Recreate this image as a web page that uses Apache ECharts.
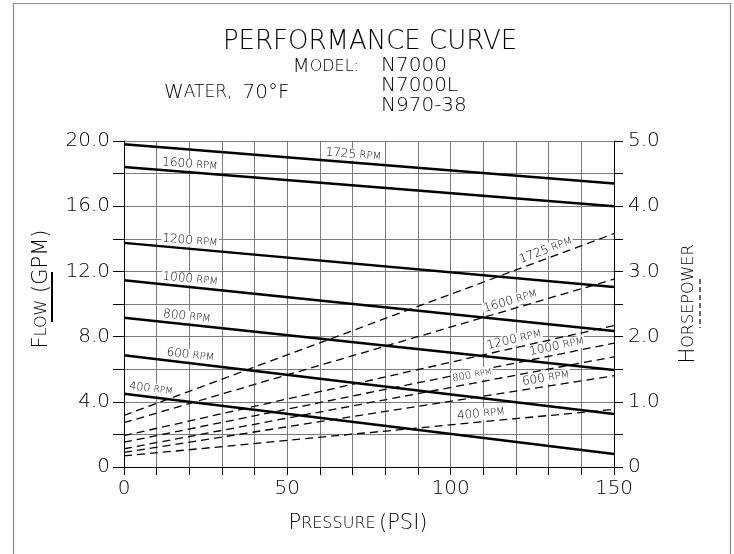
<!DOCTYPE html>
<html><head><meta charset="utf-8">
<script src="https://cdn.jsdelivr.net/npm/echarts@6/dist/echarts.min.js"></script>
<style>html,body{margin:0;padding:0;background:#fff}#c{width:734px;height:554px}</style>
</head><body><div id="c"></div>
<script>
// ---- data ----
const pressure = [0, 150];                 // PSI
const rpm = ['1725', '1600', '1200', '1000', '800', '600', '400'];
// Flow (GPM) at pressure[0], pressure[1]
const flow1725 = [19.8, 17.4];
const flow1600 = [18.4, 16.0];
const flow1200 = [13.75, 11.05];
const flow1000 = [11.45, 8.35];
const flow800  = [9.15, 5.95];
const flow600  = [6.85, 3.25];
const flow400  = [4.5, 0.8];
// Horsepower at pressure[0], pressure[1]
const hp1725 = [0.79, 3.58];
const hp1600 = [0.68, 2.88];
const hp1200 = [0.48, 2.17];
const hp1000 = [0.38, 1.90];
const hp800  = [0.28, 1.69];
const hp600  = [0.225, 1.40];
const hp400  = [0.17, 0.885];
// tick labels
const xTickLabels = ['0', '50', '100', '150'];
const flowTickLabels = ['0', '4.0', '8.0', '12.0', '16.0', '20.0'];
const hpTickLabels = ['0', '1.0', '2.0', '3.0', '4.0', '5.0'];

const flowSeries = [flow1725, flow1600, flow1200, flow1000, flow800, flow600, flow400];
const hpSeries = [hp1725, hp1600, hp1200, hp1000, hp800, hp600, hp400];

// ---- annotation placement (PSI along each curve) and sizes ----
const flowLabelPsi = [70, 20, 20, 20, 19, 20, 8];
const hpLabelPsi = [130, 119, 120, 133, 107, 129.5, 109.5];
const flowLabelSize = [12, 12, 12, 12, 12, 12, 11];
const hpLabelSize = [12, 12, 12, 12, 10, 12, 12];

const F = "'DejaVu Sans', 'Noto Sans', sans-serif";
const W = 200;
const TXT = '#000';

const chart = echarts.init(document.getElementById('c'), null, {renderer: 'canvas'});

const series = [];
flowSeries.forEach((arr, i) => series.push({
  name: rpm[i] + ' RPM flow', type: 'line', xAxisIndex: 0, yAxisIndex: 0,
  data: pressure.map((p, k) => [p, arr[k]]), symbol: 'none', silent: true,
  lineStyle: {color: '#000', width: 2.5}, z: 5
}));
hpSeries.forEach((arr, i) => series.push({
  name: rpm[i] + ' RPM hp', type: 'line', xAxisIndex: 0, yAxisIndex: 1,
  data: pressure.map((p, k) => [p, arr[k]]), symbol: 'none', silent: true,
  lineStyle: {color: '#000', width: 1.3, type: [8, 5]}, z: 4
}));

const gridStyle = {show: true, lineStyle: {color: '#7a7a7a', width: 1}};
const axisLbl = {fontFamily: F, fontWeight: W, fontSize: 20, color: TXT};
const rich = {
  a: {fontFamily: F, fontWeight: W, fontSize: 21, color: TXT},
  b: {fontFamily: F, fontWeight: W, fontSize: 16, color: TXT}
};

chart.setOption({
  animation: false,
  backgroundColor: '#fff',
  grid: {left: 124, right: 120, top: 141, bottom: 87},
  xAxis: {
    type: 'value', min: 0, max: 150, interval: 10,
    name: '{a|P}{b|RESSURE} {a|(PSI)}', nameLocation: 'middle', nameGap: 46,
    nameTextStyle: {rich, padding: [0, 22, 0, 0]},
    axisLine: {show: true, lineStyle: {color: '#000', width: 1}},
    axisTick: {show: true, length: 8, lineStyle: {color: '#000'}},
    axisLabel: Object.assign({margin: 12, formatter: v => (v % 50 === 0 ? xTickLabels[v / 50] : '')}, axisLbl),
    splitLine: gridStyle
  },
  yAxis: [{
    type: 'value', min: 0, max: 20, interval: 2, position: 'left',
    name: '{a|F}{b|LOW}  {a|(GPM)}', nameLocation: 'middle', nameRotate: 90, nameGap: 72,
    nameTextStyle: {rich, padding: [0, 0, 0, 30]},
    axisLine: {show: true, lineStyle: {color: '#000', width: 1}},
    axisTick: {show: true, length: 11, lineStyle: {color: '#000'}},
    axisLabel: Object.assign({margin: 14, formatter: v => (v % 4 === 0 ? flowTickLabels[v / 4] : '')}, axisLbl),
    splitLine: gridStyle
  }, {
    type: 'value', min: 0, max: 5, interval: 0.5, position: 'right',
    name: '{a|H}{b|ORSEPOWER}', nameLocation: 'middle', nameRotate: 90, nameGap: 64,
    nameTextStyle: {rich},
    axisLine: {show: true, lineStyle: {color: '#000', width: 1}},
    axisTick: {show: true, length: 9, lineStyle: {color: '#000'}},
    axisLabel: Object.assign({margin: 14, formatter: v => (Math.abs(v % 1) < 1e-9 ? hpTickLabels[Math.round(v)] : '')}, axisLbl),
    splitLine: {show: false}
  }],
  series
});

function curveLabel(arr, yAxisIndex, psi, text, fs) {
  const t = (psi - pressure[0]) / (pressure[1] - pressure[0]);
  const yv = arr[0] + (arr[1] - arr[0]) * t;
  const finder = {xAxisIndex: 0, yAxisIndex: yAxisIndex};
  const p = chart.convertToPixel(finder, [psi, yv]);
  const p0 = chart.convertToPixel(finder, [pressure[0], arr[0]]);
  const p1 = chart.convertToPixel(finder, [pressure[1], arr[1]]);
  const a = Math.atan2(p1[1] - p0[1], p1[0] - p0[0]);
  const gap = 2;
  return {
    type: 'text', x: p[0] + Math.sin(a) * gap, y: p[1] - Math.cos(a) * gap,
    rotation: -a, silent: true, z: 20,
    style: {
      text: '{n|' + text + '} {r|RPM}',
      align: 'center', verticalAlign: 'bottom',
      backgroundColor: '#fff', padding: [0, 1, 0, 1],
      rich: {
        n: {fontFamily: F, fontWeight: W, fontSize: fs, fill: TXT, color: TXT},
        r: {fontFamily: F, fontWeight: W, fontSize: Math.round(fs * 0.8), fill: TXT, color: TXT}
      }
    }
  };
}

const graphics = [];
// outer frame
graphics.push({type: 'rect', shape: {x: 13.5, y: 3.5, width: 717, height: 600}, silent: true, z: 0,
  style: {fill: 'none', stroke: '#8a8a8a', lineWidth: 1.2}});
// header texts
graphics.push({type: 'text', x: 370, y: 42, silent: true,
  style: {text: 'PERFORMANCE CURVE', fontFamily: F, fontWeight: W, fontSize: 26, fill: TXT, align: 'center', verticalAlign: 'middle'}});
graphics.push({type: 'text', x: 359, y: 67, silent: true,
  style: {text: '{a|M}{b|ODEL:}', align: 'right', verticalAlign: 'middle',
    rich: {a: {fontFamily: F, fontWeight: W, fontSize: 20, fill: TXT}, b: {fontFamily: F, fontWeight: W, fontSize: 16, fill: TXT}}}});
[['N7000', 66], ['N7000L', 86], ['N970-38', 106]].forEach(m => graphics.push({type: 'text', x: 381, y: m[1], silent: true,
  style: {text: m[0], fontFamily: F, fontWeight: W, fontSize: 20, fill: TXT, align: 'left', verticalAlign: 'middle'}}));
graphics.push({type: 'text', x: 164, y: 93, silent: true,
  style: {text: '{a|W}{b|ATER,}   {a|70°F}', align: 'left', verticalAlign: 'middle',
    rich: {a: {fontFamily: F, fontWeight: W, fontSize: 20, fill: TXT}, b: {fontFamily: F, fontWeight: W, fontSize: 17, fill: TXT}}}});
// axis-name line keys: solid = flow, dashed = horsepower
graphics.push({type: 'line', shape: {x1: 52, y1: 272, x2: 52, y2: 322}, silent: true,
  style: {stroke: '#000', lineWidth: 2}});
graphics.push({type: 'line', shape: {x1: 700, y1: 279, x2: 700, y2: 328}, silent: true,
  style: {stroke: '#000', lineWidth: 1.2, lineDash: [5, 3]}});
// curve labels
flowSeries.forEach((arr, i) => graphics.push(curveLabel(arr, 0, flowLabelPsi[i], rpm[i], flowLabelSize[i])));
hpSeries.forEach((arr, i) => graphics.push(curveLabel(arr, 1, hpLabelPsi[i], rpm[i], hpLabelSize[i])));

chart.setOption({graphic: graphics});
</script>
</body></html>
